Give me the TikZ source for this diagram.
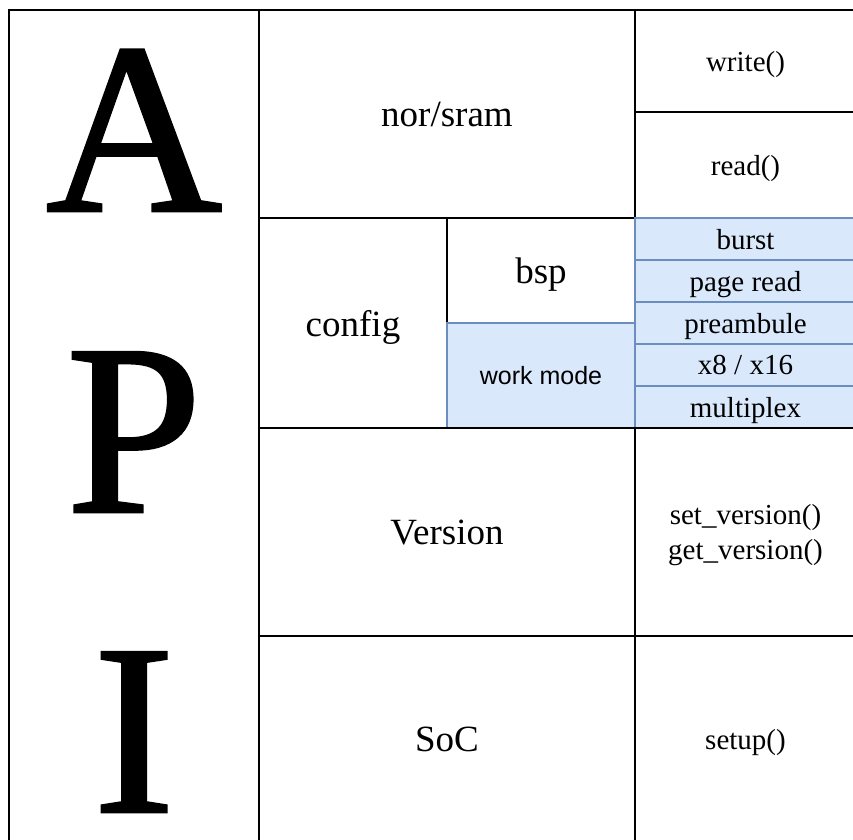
\documentclass[tikz,border=0pt]{standalone}
\usepackage{fontspec}
\setmainfont{Liberation Serif}
\newfontfamily\arialfont{Liberation Sans}
\newfontfamily\bigfont[FakeBold=1.2]{Liberation Serif}
\usetikzlibrary{positioning}
\definecolor{cBlueLine}{RGB}{108,142,191}
\definecolor{cFillBlue}{RGB}{218,232,252}
\tikzset{
  %% table cells
  cell/.style={rectangle, draw=black, line width=1.3pt, anchor=north west,
               inner sep=0pt, outer sep=0pt, align=center, text depth=0pt,
               font=\fontsize{37}{44}\selectfont},
  cellS/.style={cell, font=\fontsize{29}{35}\selectfont},
  cellB/.style={cellS, draw=cBlueLine, fill=cFillBlue},
  %% big API letters
  bigletter/.style={anchor=base, inner sep=0pt, text depth=0pt,
                    font=\bigfont\fontsize{244}{244}\selectfont},
}
\begin{document}
\begin{tikzpicture}[x=1pt, y=-1pt]
\useasboundingbox (0,0) rectangle (853,839);
\clip (0,0) rectangle (853,839);

%% ============================================================
%%  COLUMN / ROW EDGES
%% ============================================================
\def\xa{9}
\def\xb{259}
\def\xc{447}
\def\xd{635}
\def\xe{856}
\def\ya{10}
\def\yb{218}
\def\yc{428}
\def\yd{636}
\def\ye{842}

%% ----- API column -----
\node[cell, minimum width={(\xb-\xa)*1pt}, minimum height={(\ye-\ya)*1pt}]
  (apiCol) at (\xa, \ya) {};
\node[bigletter] (letA) at (134, 211) {A};
\node[bigletter] (letP) at (134, 512) {P};
\node[bigletter] (letI) at (134, 812) {I};

%% ============================================================
%%  ROW 1 -- nor/sram
%% ============================================================
\node[cell, minimum width={(\xd-\xb)*1pt}, minimum height={(\yb-\ya)*1pt}]
  (norsram) at (\xb, \ya) {nor/sram};
\node[cellS, minimum width={(\xe-\xd)*1pt}, minimum height=102pt]
  (write) at (\xd, \ya) {write()};
\node[cellS, minimum width={(\xe-\xd)*1pt}, minimum height={(\yb-112)*1pt}]
  (read) at (\xd, 112) {read()};

%% ============================================================
%%  ROW 2 -- config
%% ============================================================
\node[cell, minimum width={(\xc-\xb)*1pt}, minimum height={(\yc-\yb)*1pt}]
  (config) at (\xb, \yb) {config};
\node[cell, minimum width={(\xd-\xc)*1pt}, minimum height=105pt]
  (bsp) at (\xc, \yb) {bsp};
\node[cellB, minimum width={(\xd-\xc)*1pt}, minimum height={(\yc-323)*1pt},
      font=\arialfont\fontsize{25}{30}\selectfont]
  (workmode) at (\xc, 323) {work mode};

%% work mode options
\foreach \lbl [count=\i from 0] in {burst, page read, preambule, x8 / x16, multiplex} {
  \node[cellB, minimum width={(\xe-\xd)*1pt}, minimum height=42pt]
    (mode\i) at (\xd, {\yb+42*\i}) {\lbl};
}

%% ============================================================
%%  ROW 3 -- Version
%% ============================================================
\node[cell, minimum width={(\xd-\xb)*1pt}, minimum height={(\yd-\yc)*1pt}]
  (version) at (\xb, \yc) {Version};
\node[cellS, minimum width={(\xe-\xd)*1pt}, minimum height={(\yd-\yc)*1pt}]
  (verfun) at (\xd, \yc) {set\_version()\\get\_version()};

%% ============================================================
%%  ROW 4 -- SoC
%% ============================================================
\node[cell, minimum width={(\xd-\xb)*1pt}, minimum height={(\ye-\yd)*1pt}]
  (soc) at (\xb, \yd) {SoC};
\node[cellS, minimum width={(\xe-\xd)*1pt}, minimum height={(\ye-\yd)*1pt}]
  (setup) at (\xd, \yd) {setup()};

\end{tikzpicture}
\end{document}
